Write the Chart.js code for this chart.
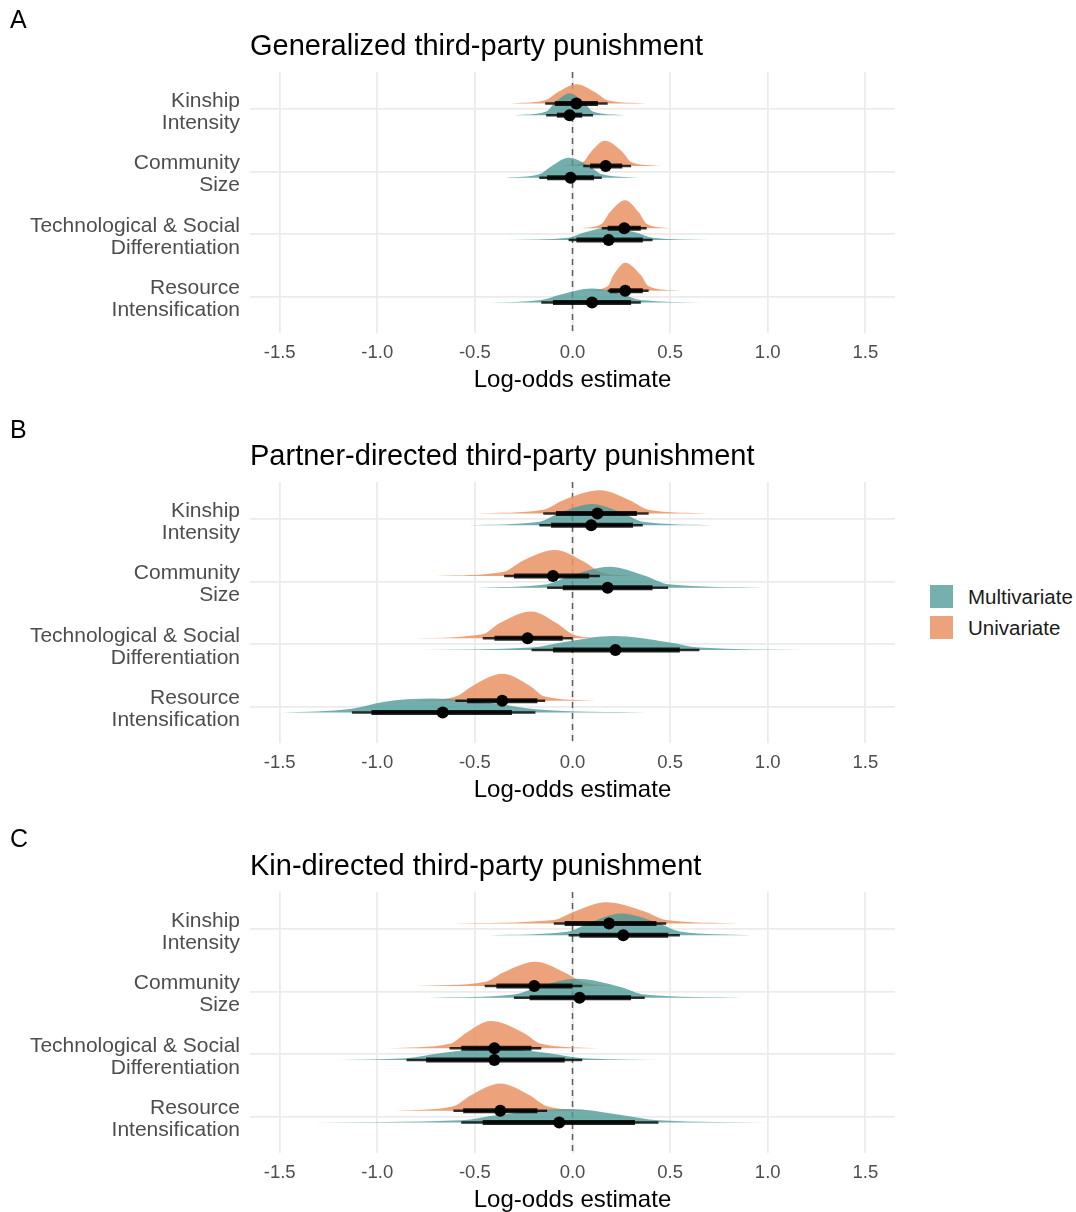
<!DOCTYPE html>
<html>
<head>
<meta charset="utf-8">
<script src="https://cdn.jsdelivr.net/npm/chart.js@4.4.1/dist/chart.umd.min.js"></script>
<style>
  body { margin: 0; background: #fff; overflow: hidden; font-family: "Liberation Sans", Arial, sans-serif; }
  #page { position: relative; width: 1076px; height: 1212px; }
  .panel { position: absolute; left: 0; }
  .tag { position: absolute; left: 10px; font-size: 25px; line-height: 1; color: #000; }
  #legend { position: absolute; left: 930px; top: 581px; font-size: 20.5px; color: #1a1a1a; }
  .key { display: flex; align-items: center; height: 31px; }
  .swatch { width: 23px; height: 23px; margin-right: 15px; }
</style>
</head>
<body>
<div id="page">
  <canvas id="panel0" class="panel" width="905" height="410" style="top:0px"></canvas>
  <canvas id="panel1" class="panel" width="905" height="410" style="top:410px"></canvas>
  <canvas id="panel2" class="panel" width="905" height="410" style="top:820px"></canvas>
  <div class="tag" style="top:7px">A</div>
  <div class="tag" style="top:417px">B</div>
  <div class="tag" style="top:826px">C</div>
  <div id="legend">
    <div class="key"><div class="swatch" style="background:#76b0ae"></div>Multivariate</div>
    <div class="key"><div class="swatch" style="background:#eca37c"></div>Univariate</div>
  </div>
</div>
<script>
// ---- data ----
const categories = [
    ['Kinship', 'Intensity'],
    ['Community', 'Size'],
    ['Technological & Social', 'Differentiation'],
    ['Resource', 'Intensification']
];
const panelTitles = [
    'Generalized third-party punishment',
    'Partner-directed third-party punishment',
    'Kin-directed third-party punishment'
];
const xTickValues = [-1.5, -1.0, -0.5, 0, 0.5, 1.0, 1.5];
const xTickLabels = ['-1.5', '-1.0', '-0.5', '0.0', '0.5', '1.0', '1.5'];
const rowPositions = [1, 2, 3, 4];

// medians, one list per panel (A, B, C), rows in category order
const uniMedian = [
    [0.02, 0.17, 0.265, 0.27],
    [0.128, -0.10, -0.23, -0.36],
    [0.187, -0.196, -0.40, -0.37]
];
const multiMedian = [
    [-0.015, -0.01, 0.185, 0.10],
    [0.096, 0.18, 0.22, -0.665],
    [0.26, 0.036, -0.40, -0.068]
];

// thick (inner) intervals
const uniThick = [
    [[-0.09, 0.13], [0.09, 0.255], [0.18, 0.35], [0.19, 0.36]],
    [[-0.085, 0.33], [-0.30, 0.085], [-0.40, -0.05], [-0.54, -0.18]],
    [[-0.04, 0.43], [-0.39, 0.0], [-0.57, -0.21], [-0.56, -0.18]]
];
const multiThick = [
    [[-0.08, 0.05], [-0.13, 0.11], [0.02, 0.36], [-0.10, 0.30]],
    [[-0.11, 0.31], [-0.05, 0.41], [-0.10, 0.55], [-1.03, -0.31]],
    [[0.036, 0.49], [-0.22, 0.30], [-0.75, -0.04], [-0.46, 0.32]]
];

// thin (outer) intervals
const uniThin = [
    [[-0.14, 0.18], [0.055, 0.30], [0.15, 0.38], [0.18, 0.39]],
    [[-0.15, 0.39], [-0.35, 0.14], [-0.46, 0.0], [-0.60, -0.14]],
    [[-0.096, 0.48], [-0.45, 0.05], [-0.63, -0.16], [-0.61, -0.13]]
];
const multiThin = [
    [[-0.135, 0.105], [-0.17, 0.15], [-0.02, 0.41], [-0.16, 0.35]],
    [[-0.17, 0.36], [-0.13, 0.49], [-0.21, 0.65], [-1.13, -0.19]],
    [[-0.02, 0.55], [-0.30, 0.37], [-0.85, 0.05], [-0.57, 0.44]]
];

// density outlines [x, relative density]
const uniSlab = [
    [
        [[-0.32, 0], [-0.14, 0.11], [-0.08, 0.38], [0.02, 0.68], [0.12, 0.38], [0.18, 0.11], [0.38, 0]],
        [[-0.06, 0], [0.055, 0.14], [0.095, 0.5], [0.165, 0.89], [0.255, 0.5], [0.30, 0.14], [0.45, 0]],
        [[0.04, 0], [0.15, 0.16], [0.19, 0.56], [0.27, 1.0], [0.34, 0.56], [0.38, 0.16], [0.50, 0]],
        [[0.06, 0], [0.18, 0.16], [0.21, 0.56], [0.27, 1.0], [0.35, 0.56], [0.39, 0.16], [0.55, 0]]
    ],
    [
        [[-0.49, 0], [-0.15, 0.13], [-0.05, 0.46], [0.14, 0.82], [0.295, 0.46], [0.39, 0.13], [0.70, 0]],
        [[-0.70, 0], [-0.35, 0.15], [-0.26, 0.52], [-0.09, 0.92], [0.055, 0.52], [0.14, 0.15], [0.30, 0]],
        [[-0.85, 0], [-0.46, 0.15], [-0.375, 0.54], [-0.21, 0.96], [-0.08, 0.54], [0.0, 0.15], [0.14, 0]],
        [[-0.80, 0], [-0.60, 0.15], [-0.51, 0.54], [-0.36, 0.96], [-0.22, 0.54], [-0.14, 0.15], [0.12, 0]]
    ],
    [
        [[-0.62, 0], [-0.096, 0.12], [0.01, 0.42], [0.17, 0.75], [0.37, 0.42], [0.48, 0.12], [0.85, 0]],
        [[-0.80, 0], [-0.45, 0.14], [-0.355, 0.48], [-0.19, 0.86], [-0.04, 0.48], [0.05, 0.14], [0.20, 0]],
        [[-0.94, 0], [-0.63, 0.16], [-0.545, 0.55], [-0.42, 0.97], [-0.25, 0.55], [-0.16, 0.16], [0.13, 0]],
        [[-0.91, 0], [-0.61, 0.16], [-0.52, 0.55], [-0.37, 0.97], [-0.22, 0.55], [-0.13, 0.16], [0.13, 0]]
    ]
];
const multiSlab = [
    [
        [[-0.30, 0], [-0.135, 0.13], [-0.09, 0.44], [-0.015, 0.78], [0.06, 0.44], [0.105, 0.13], [0.27, 0]],
        [[-0.34, 0], [-0.17, 0.12], [-0.11, 0.40], [-0.02, 0.71], [0.09, 0.40], [0.15, 0.12], [0.34, 0]],
        [[-0.33, 0], [-0.02, 0.08], [0.055, 0.26], [0.19, 0.46], [0.33, 0.26], [0.41, 0.08], [0.70, 0]],
        [[-0.43, 0], [-0.16, 0.09], [-0.065, 0.28], [0.10, 0.5], [0.26, 0.28], [0.35, 0.09], [0.66, 0]]
    ],
    [
        [[-0.53, 0], [-0.17, 0.12], [-0.07, 0.42], [0.10, 0.75], [0.26, 0.42], [0.36, 0.12], [0.72, 0]],
        [[-0.49, 0], [-0.13, 0.12], [-0.015, 0.41], [0.19, 0.74], [0.375, 0.41], [0.49, 0.12], [0.98, 0]],
        [[-0.77, 0], [-0.21, 0.09], [-0.05, 0.28], [0.21, 0.5], [0.49, 0.28], [0.65, 0.09], [1.19, 0]],
        [[-1.49, 0], [-1.13, 0.14], [-0.97, 0.38], [-0.72, 0.5], [-0.37, 0.30], [-0.19, 0.12], [0.38, 0]]
    ],
    [
        [[-0.43, 0], [-0.02, 0.13], [0.085, 0.43], [0.25, 0.77], [0.44, 0.43], [0.55, 0.13], [0.92, 0]],
        [[-0.74, 0], [-0.30, 0.11], [-0.175, 0.38], [0.02, 0.67], [0.245, 0.38], [0.37, 0.11], [0.87, 0]],
        [[-1.34, 0], [-0.85, 0.07], [-0.68, 0.24], [-0.40, 0.42], [-0.12, 0.24], [0.05, 0.07], [0.57, 0]],
        [[-1.34, 0], [-0.57, 0.08], [-0.38, 0.27], [-0.02, 0.48], [0.25, 0.27], [0.44, 0.08], [1.0, 0]]
    ]
];

// ---- styling ----
const FONT = '"Liberation Sans", Arial, sans-serif';
const X_MIN = -1.652, X_MAX = 1.652;
const Y_MIN = 0.403, Y_MAX = 4.581;
const UNI_OFFSET = -0.094, MULTI_OFFSET = 0.094;
const SLAB_HEIGHT = 0.45;
const UNI_FILL = 'rgba(233, 147, 101, 0.85)';
const MULTI_FILL = 'rgba(79, 154, 151, 0.8)';

Chart.defaults.font.family = FONT;

function slabDataset(points, baseline, color, order) {
    return {
        data: points.map(p => ({x: p[0], y: baseline - p[1] * SLAB_HEIGHT})),
        borderWidth: 0,
        borderColor: 'rgba(0,0,0,0)',
        backgroundColor: color,
        pointRadius: 0,
        fill: {value: baseline},
        cubicInterpolationMode: 'monotone',
        order: order
    };
}

function segDataset(range, y, width, color, order) {
    return {
        data: [{x: range[0], y: y}, {x: range[1], y: y}],
        borderColor: color,
        borderWidth: width,
        borderCapStyle: 'butt',
        pointRadius: 0,
        fill: false,
        order: order
    };
}

function buildPanel(p) {
    let datasets = [];
    datasets.push({
        data: [{x: 0, y: Y_MIN}, {x: 0, y: Y_MAX}],
        borderColor: '#5e5e5e',
        borderWidth: 1.5,
        borderDash: [6, 5],
        pointRadius: 0,
        fill: false,
        order: 10
    });
    for (let i = 0; i < rowPositions.length; ++i) {
        let yu = rowPositions[i] + UNI_OFFSET;
        let ym = rowPositions[i] + MULTI_OFFSET;
        datasets.push(slabDataset(uniSlab[p][i], yu, UNI_FILL, 5));
        datasets.push(slabDataset(multiSlab[p][i], ym, MULTI_FILL, 4));
        datasets.push(segDataset(uniThin[p][i], yu, 2.5, 'rgba(0,0,0,0.8)', 3));
        datasets.push(segDataset(multiThin[p][i], ym, 2.5, 'rgba(0,0,0,0.8)', 3));
        datasets.push(segDataset(uniThick[p][i], yu, 5, 'rgba(0,0,0,0.85)', 2));
        datasets.push(segDataset(multiThick[p][i], ym, 5, 'rgba(0,0,0,0.85)', 2));
    }
    datasets.push({
        data: uniMedian[p].map((m, i) => ({x: m, y: rowPositions[i] + UNI_OFFSET}))
            .concat(multiMedian[p].map((m, i) => ({x: m, y: rowPositions[i] + MULTI_OFFSET}))),
        showLine: false,
        pointRadius: 6,
        pointBackgroundColor: '#000',
        pointBorderWidth: 0,
        order: 0
    });

    new Chart(document.getElementById('panel' + p), {
        type: 'line',
        data: {datasets: datasets},
        options: {
            responsive: false,
            animation: false,
            devicePixelRatio: 1,
            layout: {padding: {left: 0, right: 10, top: 0, bottom: 0}},
            plugins: {
                legend: {display: false},
                tooltip: {enabled: false},
                title: {
                    display: true,
                    text: panelTitles[p],
                    align: 'start',
                    fullSize: false,
                    color: '#000',
                    font: {family: FONT, size: 29, weight: 'normal', lineHeight: 1.2},
                    padding: {top: 29.2, bottom: 8}
                }
            },
            scales: {
                x: {
                    type: 'linear',
                    min: X_MIN,
                    max: X_MAX,
                    afterBuildTicks: s => { s.ticks = xTickValues.map(v => ({value: v})); },
                    afterFit: s => { s.height = 410 - 333; },
                    ticks: {
                        callback: (v, i) => xTickLabels[i],
                        color: '#4d4d4d',
                        font: {size: 18.5},
                        padding: 9,
                        maxRotation: 0,
                        autoSkip: false
                    },
                    grid: {color: '#ebebeb', lineWidth: 1.8, drawTicks: false},
                    border: {display: false},
                    title: {
                        display: true,
                        text: 'Log-odds estimate',
                        color: '#000',
                        font: {size: 24, lineHeight: 1.2},
                        padding: {top: 0, bottom: 15.6}
                    }
                },
                y: {
                    type: 'linear',
                    reverse: true,
                    min: Y_MIN,
                    max: Y_MAX,
                    afterBuildTicks: s => { s.ticks = rowPositions.map(v => ({value: v})); },
                    afterFit: s => { s.width = 250; },
                    ticks: {
                        callback: (v, i) => categories[i],
                        color: '#4d4d4d',
                        font: {size: 21, lineHeight: 1.05},
                        padding: 10,
                        labelOffset: 2.5,
                        autoSkip: false
                    },
                    grid: {color: '#ebebeb', lineWidth: 1.8, drawTicks: false},
                    border: {display: false}
                }
            }
        }
    });
}

for (let p = 0; p < panelTitles.length; ++p) buildPanel(p);
</script>
</body>
</html>
